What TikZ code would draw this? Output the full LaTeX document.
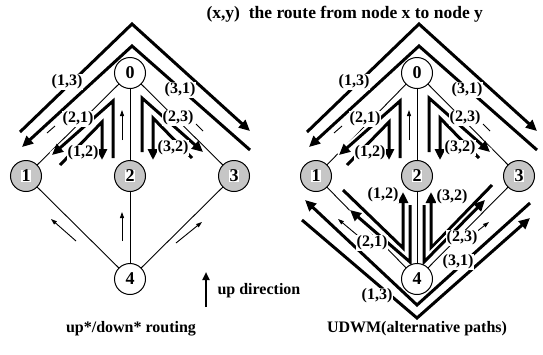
\documentclass[tikz,border=0pt]{standalone}
\usepackage{fontspec}
\setmainfont{Liberation Serif}
\usetikzlibrary{arrows.meta}
\begin{document}
\begin{tikzpicture}[x=1pt,y=-1pt,
  vertex/.style={circle, draw, line width=1pt, minimum size=31pt, inner sep=0pt, fill=white},
  shadedvertex/.style={vertex, fill=gray!45},
  digit/.style={inner sep=0.4pt, font=\fontsize{18}{18}\selectfont\bfseries},
  link/.style={line width=0.9pt},
  upmark/.style={line width=0.9pt, -{Triangle[length=6pt,width=4pt]}},
  route/.style={line width=3pt, line join=miter, -{Triangle[length=11pt,width=10pt]},
    preaction={draw=white, line width=7pt, -}},
  tag/.style={fill=white, inner sep=0.6pt, font=\fontsize{16}{16}\selectfont\bfseries},
  caption/.style={font=\fontsize{16}{16}\selectfont\bfseries},
]
\useasboundingbox (0,0) rectangle (543,354);

% ---------- node positions ----------
\coordinate (a0) at (130,73);  \coordinate (a1) at (26,176);
\coordinate (a2) at (130,176); \coordinate (a3) at (234,176);
\coordinate (a4) at (130,279);
\coordinate (b0) at (417,73);  \coordinate (b1) at (316,176);
\coordinate (b2) at (417,176); \coordinate (b3) at (519,176);
\coordinate (b4) at (417,279);

% ---------- links ----------
\foreach \p in {a,b}{
  \draw[link] (\p0) -- (\p1);
  \draw[link] (\p0) -- (\p2);
  \draw[link] (\p0) -- (\p3);
  \draw[link] (\p4) -- (\p1);
  \draw[link] (\p4) -- (\p2);
  \draw[link] (\p4) -- (\p3);
}

% ---------- up-direction marks on the links ----------
\draw[upmark] (122,140) -- (122,110);
\draw[upmark] (76,241) -- (51,219);
\draw[upmark] (122,241) -- (122,212);
\draw[upmark] (176,243) -- (202,222);
\draw[upmark] (409,140) -- (409,110);
\draw[upmark] (363,240) -- (338,219);
\draw[upmark] (466,240) -- (489,222);

% ---------- routes through node 0 (both networks) ----------
\foreach \dx in {0,287}{
  \begin{scope}[xshift=\dx pt]
    \draw[route] (20,132) -- (132,24) -- (250,131);
    \draw[route] (250,150) -- (132,46) -- (22,147);
    \draw[route] (113,158) -- (113,101) -- (52,155);
    \draw[route] (60,165) -- (102,122) -- (102,160);
    \draw[route] (142,152) -- (142,98) -- (203,152);
    \draw[route] (192,158) -- (153,118) -- (153,160);
    \draw[link] (47,133) -- (55,126);
    \draw[link] (196,124) -- (203,131);
    \node[tag] at (67,82) {(1,3)};
    \node[tag] at (180,90) {(3,1)};
    \node[tag] at (78,119) {(2,1)};
    \node[tag] at (83,153) {(1,2)};
    \node[tag] at (178,118) {(2,3)};
    \node[tag] at (173,148) {(3,2)};
  \end{scope}
}

% ---------- alternative routes through node 4 ----------
\draw[route] (302,220) -- (417,318) -- (530,218);
\draw[route] (530,203) -- (417,305) -- (305,200);
\draw[route] (343,190) -- (403,248) -- (403,192);
\draw[route] (410,205) -- (410,262) -- (350,210);
\draw[route] (492,185) -- (431,248) -- (431,192);
\draw[route] (424,205) -- (424,262) -- (485,200);
\node[tag] at (377,296) {(1,3)};
\node[tag] at (458,262) {(3,1)};
\node[tag] at (383,195) {(1,2)};
\node[tag] at (372,243) {(2,1)};
\node[tag] at (452,197) {(3,2)};
\node[tag] at (462,238) {(2,3)};

% ---------- switches ----------
\foreach \p in {a,b}{
  \node[vertex] (\p n0) at (\p0) {}; \node[digit] at (\p n0) {0};
  \node[shadedvertex] (\p n1) at (\p1) {}; \node[digit, fill=white] at (\p n1) {1};
  \node[shadedvertex] (\p n2) at (\p2) {}; \node[digit, fill=white] at (\p n2) {2};
  \node[shadedvertex] (\p n3) at (\p3) {}; \node[digit, fill=white] at (\p n3) {3};
  \node[vertex] (\p n4) at (\p4) {}; \node[digit] at (\p n4) {4};
}

% ---------- legend and captions ----------
\node[font=\fontsize{17.5}{17.5}\selectfont\bfseries, anchor=west] (title) at (203,14)
  {(x,y)\ \ the route from node x to node y};
\coordinate (upbase) at (206,307);
\coordinate (uptip) at (206,272);
\draw[line width=2pt, -{Triangle[length=8pt,width=7pt]}] (upbase) -- (uptip);
\node[caption, anchor=west] (updir) at (214,291) {up direction};
\node[caption] (capa) at (131,329) {up*/down* routing};
\node[caption] (capb) at (417,329) {UDWM(alternative paths)};
\end{tikzpicture}
\end{document}
